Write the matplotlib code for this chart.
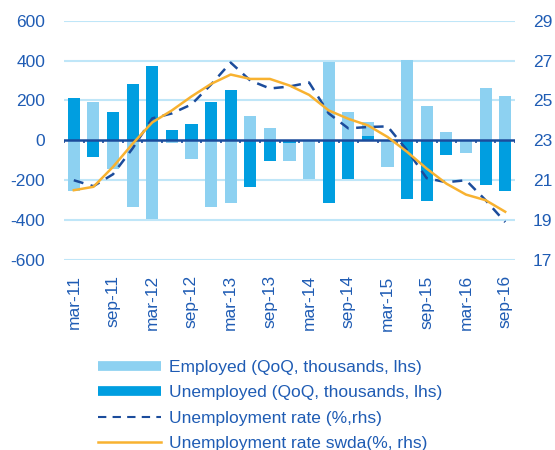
import numpy as np
import matplotlib
matplotlib.use("Agg")
import matplotlib.pyplot as plt
from matplotlib.lines import Line2D

plt.rcParams['font.family'] = ['Liberation Sans', 'DejaVu Sans']

quarters = ["mar-11", "jun-11", "sep-11", "dec-11", "mar-12", "jun-12", "sep-12", "dec-12",
            "mar-13", "jun-13", "sep-13", "dec-13", "mar-14", "jun-14", "sep-14", "dec-14",
            "mar-15", "jun-15", "sep-15", "dec-15", "mar-16", "jun-16", "sep-16"]
employed = [-253, 193, -145, -333, -395, -13, -95, -333, -313, 123, 63, -105,
            -195, 392, 143, 92, -133, 402, 173, 43, -65, 262, 222]
unemployed = [213, -83, 143, 283, 373, 53, 83, 193, 253, -235, -105, -13,
              0, -313, -195, 22, 0, -295, -305, -75, 0, -225, -255]
unemp_rate = [21.0, 20.7, 21.3, 22.6, 24.1, 24.35, 24.8, 25.8, 26.9, 26.0, 25.6, 25.7,
              25.9, 24.35, 23.6, 23.67, 23.7, 22.5, 21.1, 20.9, 21.0, 20.0, 18.9]
unemp_rate_sa = [20.5, 20.67, 21.67, 22.83, 23.9, 24.5, 25.2, 25.83, 26.3, 26.08, 26.08, 25.75,
                 25.28, 24.5, 24.08, 23.75, 23.17, 22.42, 21.58, 20.83, 20.28, 20.0, 19.42]
left_ticks = [-600, -400, -200, 0, 200, 400, 600]
right_ticks = [17, 19, 21, 23, 25, 27, 29]

TXT = '#1F5CB4'
LIGHT = '#8DD1F1'
DARK = '#009EE0'
NAVY = '#1B4C9C'
ORANGE = '#F8B230'
GRID = '#BFE6F8'
FS = 12.5

fig = plt.figure(figsize=(5.55, 4.5), dpi=100)
ax = fig.add_axes([64/555, 1-260/450, (515-64)/555, (260-20.7)/450])
x = np.arange(len(quarters))
w = 0.62
ax.bar(x, employed, width=w, color=LIGHT, zorder=2)
ax.bar(x, unemployed, width=w, color=DARK, zorder=3)

ax.set_ylim(-600, 600)
ax.set_xlim(-0.5, len(quarters) - 0.5)
ax.set_yticks(left_ticks)
ax.set_yticklabels([str(v) for v in left_ticks])
for v in left_ticks:
    if v != 0:
        ax.axhline(v, color=GRID, lw=1.5, zorder=1)
ax.axhline(0, color=NAVY, lw=1.8, zorder=4)
ax.vlines(np.arange(len(quarters) + 1) - 0.5, -14, 0, color=NAVY, lw=1.2, zorder=4)

for s in ax.spines.values():
    s.set_visible(False)
ax.tick_params(axis='both', length=0, labelsize=FS, labelcolor=TXT)
ax.tick_params(axis='y', pad=13.5)
ax.set_xticks(x[::2])
ax.set_xticklabels(quarters[::2], rotation=90)
ax.tick_params(axis='x', pad=11)

ax2 = ax.twinx()
ax2.plot(x, unemp_rate, color=NAVY, lw=1.8, dashes=(4, 3), zorder=5)
ax2.plot(x, unemp_rate_sa, color=ORANGE, lw=1.8, zorder=6)
ax2.set_ylim(17, 29)
ax2.set_yticks(right_ticks)
ax2.set_yticklabels([str(v) for v in right_ticks])
for s in ax2.spines.values():
    s.set_visible(False)
ax2.tick_params(axis='y', length=0, labelsize=FS, labelcolor=TXT, pad=13)

handles = [Line2D([], [], color=LIGHT, lw=7, solid_capstyle='butt'),
           Line2D([], [], color=DARK, lw=7, solid_capstyle='butt'),
           Line2D([], [], color=NAVY, lw=1.5, dashes=(4, 3)),
           Line2D([], [], color=ORANGE, lw=1.8)]
labels = ["Employed (QoQ, thousands, lhs)", "Unemployed (QoQ, thousands, lhs)",
          "Unemployment rate (%,rhs)", "Unemployment rate swda(%, rhs)"]
leg = fig.legend(handles, labels, loc='upper left', bbox_to_anchor=(98/555, 1-360/450),
                 frameon=False, fontsize=FS, handlelength=3.6, handletextpad=0.5,
                 borderpad=0, borderaxespad=0, labelspacing=0.58)
for t in leg.get_texts():
    t.set_color(TXT)

fig.savefig("out.png", dpi=100)
